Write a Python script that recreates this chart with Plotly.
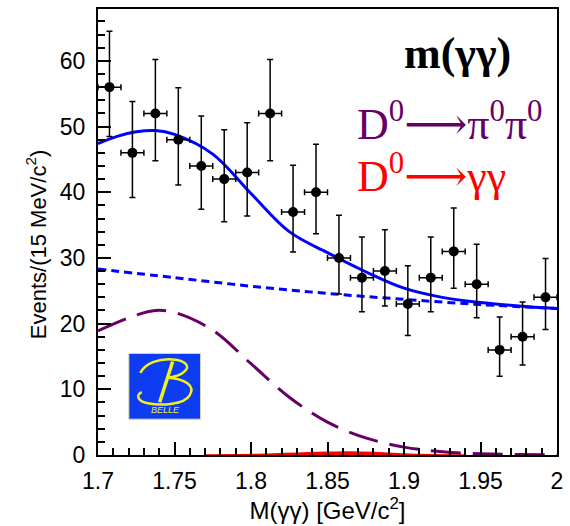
import plotly.graph_objects as go

# ---------------- data ----------------
bin_centers = [1.7075, 1.7225, 1.7375, 1.7525, 1.7675, 1.7825, 1.7975, 1.8125, 1.8275, 1.8425,
               1.8575, 1.8725, 1.8875, 1.9025, 1.9175, 1.9325, 1.9475, 1.9625, 1.9775, 1.9925]
counts = [56, 46, 52, 48, 44, 42, 43, 52, 37, 40, 30, 27, 28, 23, 27, 31, 26, 16, 18, 24]
err_up = [8.5, 7.8, 8.2, 7.9, 7.6, 7.5, 7.6, 8.2, 7.1, 7.3, 6.5, 6.2, 6.3, 5.8, 6.2, 6.6, 6.1, 5.0, 5.3, 5.9]
err_down = [7.5, 6.8, 7.2, 6.9, 6.6, 6.5, 6.6, 7.2, 6.1, 6.3, 5.5, 5.2, 5.3, 4.8, 5.2, 5.6, 5.1, 4.0, 4.3, 4.9]
half_bin = 0.0075

total_x = [1.700, 1.7125, 1.725, 1.7375, 1.750, 1.775, 1.800, 1.825, 1.850, 1.875, 1.900, 1.925, 1.950, 1.975, 2.000]
total_y = [47.4, 48.5, 49.2, 49.4, 48.8, 45.8, 39.8, 34.0, 30.8, 27.9, 25.4, 24.0, 23.2, 22.7, 22.3]

bkg_x = [1.70, 1.75, 1.80, 1.85, 1.90, 1.95, 2.00]
bkg_y = [28.3, 27.0, 25.7, 24.6, 23.7, 22.9, 22.3]

pipi_x = [1.700, 1.725, 1.7375, 1.750, 1.775, 1.800, 1.825, 1.850, 1.875, 1.900, 1.925, 1.950, 1.975, 2.000]
pipi_y = [18.9, 21.3, 22.0, 21.7, 19.0, 13.9, 8.8, 5.0, 2.6, 1.2, 0.5, 0.2, 0.07, 0.02]

gg_x = [1.77, 1.79, 1.81, 1.83, 1.85, 1.865, 1.88, 1.90, 1.92, 1.94]
gg_y = [0.0, 0.04, 0.12, 0.28, 0.42, 0.46, 0.38, 0.15, 0.04, 0.0]

x_ticks = [1.7, 1.75, 1.8, 1.85, 1.9, 1.95, 2.0]
x_tick_labels = ["1.7", "1.75", "1.8", "1.85", "1.9", "1.95", "2"]
y_ticks = [0, 10, 20, 30, 40, 50, 60]

BLUE = "#0000ff"
PURPLE = "#660066"
RED = "#ff0000"
YELLOW = "#f2f21a"

fig = go.Figure()

fig.add_trace(go.Scatter(x=gg_x, y=gg_y, mode="lines", line=dict(color=RED, width=1.5, shape="spline"),
                         fill="tozeroy", fillcolor=RED))
fig.add_trace(go.Scatter(x=pipi_x, y=pipi_y, mode="lines",
                         line=dict(color=PURPLE, width=3, dash="30px,12px", shape="spline")))
fig.add_trace(go.Scatter(x=bkg_x, y=bkg_y, mode="lines",
                         line=dict(color=BLUE, width=3, dash="8px,5px", shape="spline")))
fig.add_trace(go.Scatter(x=total_x, y=total_y, mode="lines",
                         line=dict(color=BLUE, width=3, shape="spline")))
fig.add_trace(go.Scatter(
    x=bin_centers, y=counts, mode="markers",
    marker=dict(color="black", size=10),
    error_y=dict(type="data", array=err_up, arrayminus=err_down, color="black", thickness=1.5, width=3),
    error_x=dict(type="constant", value=half_bin, color="black", thickness=1.5, width=3),
))

# ---------- Belle logo (decoration) ----------
PX0, PX1, PY0, PY1 = 98, 559, 7, 455


def px2paper(px, py):
    return (px - PX0) / (PX1 - PX0), (PY1 - py) / (PY1 - PY0)


def path_from(cmds):
    out = []
    for c in cmds:
        s = c[0]
        for (a, b) in c[1:]:
            xp, yp = px2paper(a, b)
            s += f" {xp:.4f},{yp:.4f}"
        out.append(s)
    return " ".join(out)


lx0, ly0 = px2paper(129, 353)
lx1, ly1 = px2paper(201, 419)
shapes = [dict(type="rect", xref="paper", yref="paper", x0=lx0, x1=lx1, y0=ly1, y1=ly0,
               fillcolor="#0d3cf2", line=dict(color="#d8d8a0", width=1), layer="above")]
b_path = path_from([
    ("M", (140.5, 372.5)),
    ("C", (146, 362), (160, 358), (173, 359)),
    ("C", (186, 360), (191, 366), (185, 371)),
    ("C", (180, 376), (171, 377), (166.7, 377.3)),
    ("C", (186, 378), (196, 386), (190, 395)),
    ("C", (185, 404), (162, 406), (148, 403)),
    ("C", (137, 401), (136, 394), (142, 392)),
])
v_path = path_from([("M", (173, 361)), ("L", (160, 402))])
shapes.append(dict(type="path", xref="paper", yref="paper", path=b_path,
                   line=dict(color=YELLOW, width=2.5), layer="above"))
shapes.append(dict(type="path", xref="paper", yref="paper", path=v_path,
                   line=dict(color=YELLOW, width=3.5), layer="above"))


def ann(px, py, text, size, color, family, xanchor="center", yanchor="middle", angle=0):
    xp, yp = px2paper(px, py)
    return dict(x=xp, y=yp, xref="paper", yref="paper", xanchor=xanchor, yanchor=yanchor,
                text=text, showarrow=False, textangle=angle,
                font=dict(family=family, size=size, color=color))


annotations = [
    ann(166, 410, "<i>BELLE</i>", 9, YELLOW, "Liberation Sans"),
    ann(459, 52, "<b>m(γγ)</b>", 44, "black", "Liberation Serif"),
    ann(356, 150, "D<sup>0</sup>⟶π<sup>0</sup>π<sup>0</sup>", 44, PURPLE, "Liberation Serif, DejaVu Serif",
        xanchor="left", yanchor="bottom"),
    ann(356, 202, "D<sup>0</sup>⟶γγ", 44, RED, "Liberation Serif, DejaVu Serif",
        xanchor="left", yanchor="bottom"),
    ann(36, 243, "Events/(15 MeV/c<sup>2</sup>)", 22, "black", "Liberation Sans", angle=-90),
]

fig.update_layout(
    width=570, height=526,
    margin=dict(l=98, r=11, t=7, b=71),
    paper_bgcolor="white", plot_bgcolor="white",
    showlegend=False,
    shapes=shapes,
    annotations=annotations,
    font=dict(family="Liberation Sans", color="black"),
    xaxis=dict(range=[1.7, 2.0], tickvals=x_ticks, ticktext=x_tick_labels,
               ticks="inside", ticklen=13, tickwidth=1.5, tickcolor="black",
               minor=dict(ticks="inside", ticklen=7, dtick=0.01, tickwidth=1.5, tickcolor="black", showgrid=False),
               showline=True, mirror=True, linewidth=2, linecolor="black",
               showgrid=False, zeroline=False,
               tickfont=dict(size=23), ticklabelstandoff=4,
               title=dict(text="M(γγ) [GeV/c<sup>2</sup>]", font=dict(size=24), standoff=6)),
    yaxis=dict(range=[0, 67.9], tickvals=y_ticks,
               ticks="inside", ticklen=13, tickwidth=1.5, tickcolor="black",
               minor=dict(ticks="inside", ticklen=7, dtick=2, tickwidth=1.5, tickcolor="black", showgrid=False),
               showline=True, mirror=True, linewidth=2, linecolor="black",
               showgrid=False, zeroline=False,
               tickfont=dict(size=23), ticklabelstandoff=6),
)

fig.write_html("out.html")
